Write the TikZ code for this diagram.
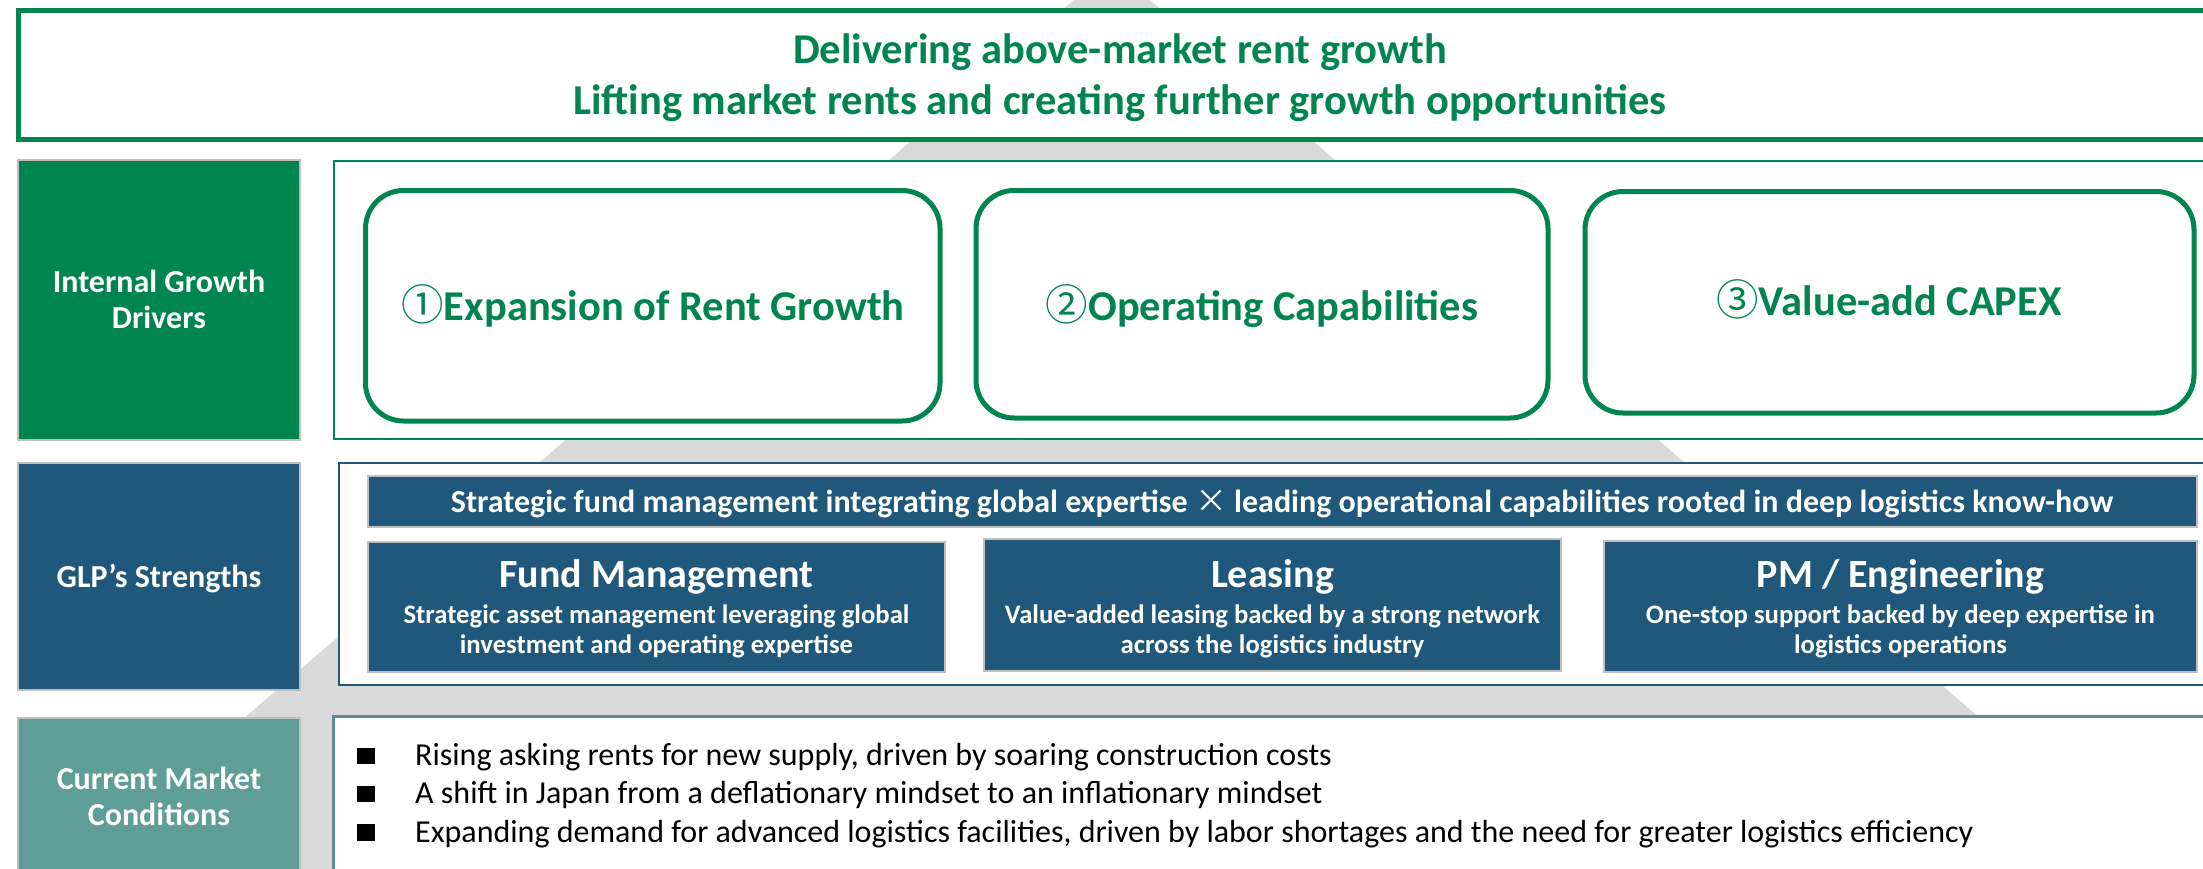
\documentclass[tikz,border=0pt]{standalone}
\usepackage{fontspec}
\setmainfont{Carlito}
\newfontfamily\cjk{Noto Sans CJK JP}
\definecolor{glpgreen}{RGB}{0,132,80}
\definecolor{glpblue}{RGB}{31,88,122}
\definecolor{glpteal}{RGB}{95,158,152}
\definecolor{rowline}{RGB}{94,140,155}
\definecolor{edgegrey}{RGB}{191,191,191}
\definecolor{pyramid}{RGB}{217,217,217}
\newcommand{\circnum}[1]{{\cjk\mdseries #1}}
\begin{document}
\begin{tikzpicture}[x=1pt,y=-1pt,
  labelbox/.style={draw=edgegrey,line width=1.5pt},
  labeltext/.style={anchor=base,align=center,text=white,font=\fontsize{32}{36}\selectfont\bfseries,inner sep=0pt},
  driverbox/.style={draw=glpgreen,line width=5pt,rounded corners=38pt},
  drivertext/.style={anchor=base,text=glpgreen,font=\fontsize{42.5}{46}\selectfont\bfseries,inner sep=0pt},
  strengthbox/.style={fill=glpblue,draw=edgegrey,line width=2pt},
  strengthtitle/.style={anchor=base,text=white,font=\fontsize{40}{44}\selectfont\bfseries,inner sep=0pt},
  strengthsub/.style={anchor=base,align=center,text=white,font=\fontsize{26.7}{30}\selectfont\bfseries,inner sep=0pt},
  bullettext/.style={anchor=base west,text=black,font=\fontsize{32}{38}\selectfont,inner sep=0pt},
  bulletmark/.style={fill=black}
]
\useasboundingbox (0,0) rectangle (2203,868);
\clip (0,0) rectangle (2203,868);

% pyramid in the background
\fill[pyramid] (1112,-33) -- (2190,900) -- (34,900) -- cycle;

% headline banner (node anchored at the baseline of its last line)
\draw[glpgreen,line width=5pt,fill=white] (18,10.5) rectangle (2222,139.5);
\node[anchor=base,align=center,text=glpgreen,font=\fontsize{42.5}{51}\selectfont\bfseries,inner sep=0pt]
  (headline) at (1120,114) {Delivering above-market rent growth\\Lifting market rents and creating further growth opportunities};

% row labels
\fill[glpgreen] (18,160) rectangle (300,440);
\draw[labelbox] (18,160) rectangle (300,440);
\node[labeltext] (lblgrowth) at (159,328) {Internal Growth\\Drivers};

\fill[glpblue] (18,463) rectangle (300,690);
\draw[labelbox] (18,463) rectangle (300,690);
\node[labeltext] (lblstrength) at (159,587) {GLP’s Strengths};

\fill[glpteal] (18,718) rectangle (300,890);
\draw[labelbox] (18,718) rectangle (300,890);
\node[labeltext] (lblmarket) at (159,825) {Current Market\\Conditions};

% row 1: internal growth drivers
\draw[glpgreen,line width=1.5pt,fill=white] (334,161) rectangle (2215,439);
\draw[driverbox] (365.5,190.5) rectangle (940,421);
\draw[driverbox] (976,190.5) rectangle (1548,418);
\draw[driverbox] (1585,191.5) rectangle (2194,413);
\node[drivertext] (drv1) at (653,320) {\circnum{①}Expansion of Rent Growth};
\node[drivertext] (drv2) at (1262,320) {\circnum{②}Operating Capabilities};
\node[drivertext] (drv3) at (1889,315) {\circnum{③}Value-add CAPEX};

% row 2: strengths
\draw[glpblue,line width=2pt,fill=white] (339,463) rectangle (2215,685);
\draw[strengthbox] (368,476) rectangle (2197,527);
\node[anchor=base,text=white,font=\fontsize{32}{34}\selectfont\bfseries,inner sep=0pt]
  (integration) at (1282,512) {Strategic fund management integrating global expertise \circnum{×} leading operational capabilities rooted in deep logistics know-how};

\draw[strengthbox] (368,542) rectangle (945,672);
\draw[strengthbox] (984,539) rectangle (1561,671);
\draw[strengthbox] (1604,541) rectangle (2197,672);
\node[strengthtitle] (fundtitle) at (656.5,587) {Fund Management};
\node[strengthsub] (fundsub) at (656.5,653) {Strategic asset management leveraging global\\investment and operating expertise};
\node[strengthtitle] (leasetitle) at (1272.5,587) {Leasing};
\node[strengthsub] (leasesub) at (1272.5,653) {Value-added leasing backed by a strong network\\across the logistics industry};
\node[strengthtitle] (pmtitle) at (1900.5,587) {PM / Engineering};
\node[strengthsub] (pmsub) at (1900.5,653) {One-stop support backed by deep expertise in\\logistics operations};

% row 3: market conditions
\draw[rowline,line width=3pt,fill=white] (333,716) rectangle (2215,890);
\fill[bulletmark] (357,748) rectangle (375,764);
\fill[bulletmark] (357,786) rectangle (375,802);
\fill[bulletmark] (357,824) rectangle (375,841);
\node[bullettext] (mkt1) at (415,765) {Rising asking rents for new supply, driven by soaring construction costs};
\node[bullettext] (mkt2) at (415,803.5) {A shift in Japan from a deflationary mindset to an inflationary mindset};
\node[bullettext] (mkt3) at (415,842) {Expanding demand for advanced logistics facilities, driven by labor shortages and the need for greater logistics efficiency};
\end{tikzpicture}
\end{document}
